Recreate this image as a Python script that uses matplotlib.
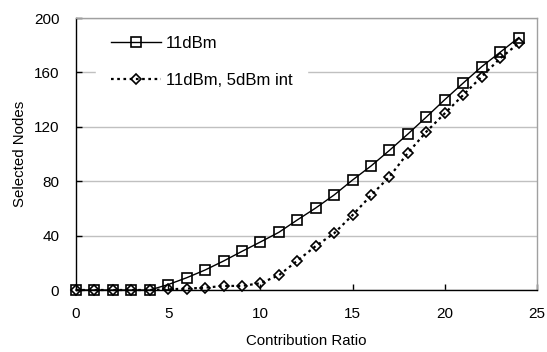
import matplotlib
matplotlib.use("Agg")
import matplotlib.pyplot as plt

plt.rcParams['font.family'] = ['Liberation Sans', 'DejaVu Sans']

x = list(range(0, 25))
s_11dbm = [0, 0, 0, 0, 0, 4, 9, 14.7, 21.3, 28.4, 35.3, 42.4, 51.5, 60.3, 69.9,
           80.9, 91.2, 102.7, 114.7, 127.2, 140, 152.2, 164.2, 174.8, 185.5]
s_int = [0, 0, 0, 0, 0, 0.5, 1, 1.7, 3, 3, 5, 10.8, 21.5, 32.3, 41.7,
         55.1, 69.6, 83.3, 100.8, 116.4, 129.9, 143.4, 156.9, 170.3, 181.4]
labels = ["11dBm", "11dBm, 5dBm int"]
xticks = [0, 5, 10, 15, 20, 25]
yticks = [0, 40, 80, 120, 160, 200]

fig = plt.figure(figsize=(5.47, 3.52), dpi=100)
ax = fig.add_axes([76/547, 1-290/352, 461/547, 272/352])

ax.plot(x, s_11dbm, color='black', lw=1.0, marker='s', markersize=7,
        markerfacecolor='none', markeredgecolor='black', markeredgewidth=1.2,
        clip_on=False, zorder=3, label=labels[0])
ax.plot(x, s_int, color='black', lw=1.6, linestyle=(0, (1.2, 1.6)), marker='D',
        markersize=5, markerfacecolor='none', markeredgecolor='black',
        markeredgewidth=1.2, clip_on=False, zorder=3, label=labels[1])

ax.set_xlim(0, 25)
ax.set_ylim(0, 200)
ax.set_xticks(xticks)
ax.set_yticks(yticks)
ax.tick_params(axis='both', direction='in', length=4, width=1, labelsize=11,
               colors='black')
ax.tick_params(axis='x', pad=12)
ax.tick_params(axis='y', pad=12)
ax.yaxis.grid(True, color='#c0c0c0', lw=1)
ax.set_axisbelow(True)
for s in ['top', 'right']:
    ax.spines[s].set_color('#a0a0a0')
    ax.spines[s].set_linewidth(1)
for s in ['left', 'bottom']:
    ax.spines[s].set_color('black')
    ax.spines[s].set_linewidth(1)

ax.set_xlabel('Contribution Ratio', fontsize=10.8, va='center')
ax.set_ylabel('Selected Nodes', fontsize=10.8, va='center')
ax.xaxis.set_label_coords(0.5, (290 - 341) / 272)
ax.yaxis.set_label_coords((20 - 76) / 461, 0.5)

leg = ax.legend(loc='upper left', bbox_to_anchor=(0.043, 0.989), borderaxespad=0,
                frameon=True, fancybox=False, facecolor='white', edgecolor='white',
                framealpha=1, fontsize=12, handlelength=3.0, labelspacing=1.3,
                borderpad=0.9, handletextpad=0.3)
leg.set_zorder(5)

fig.savefig('out.png', dpi=100)
